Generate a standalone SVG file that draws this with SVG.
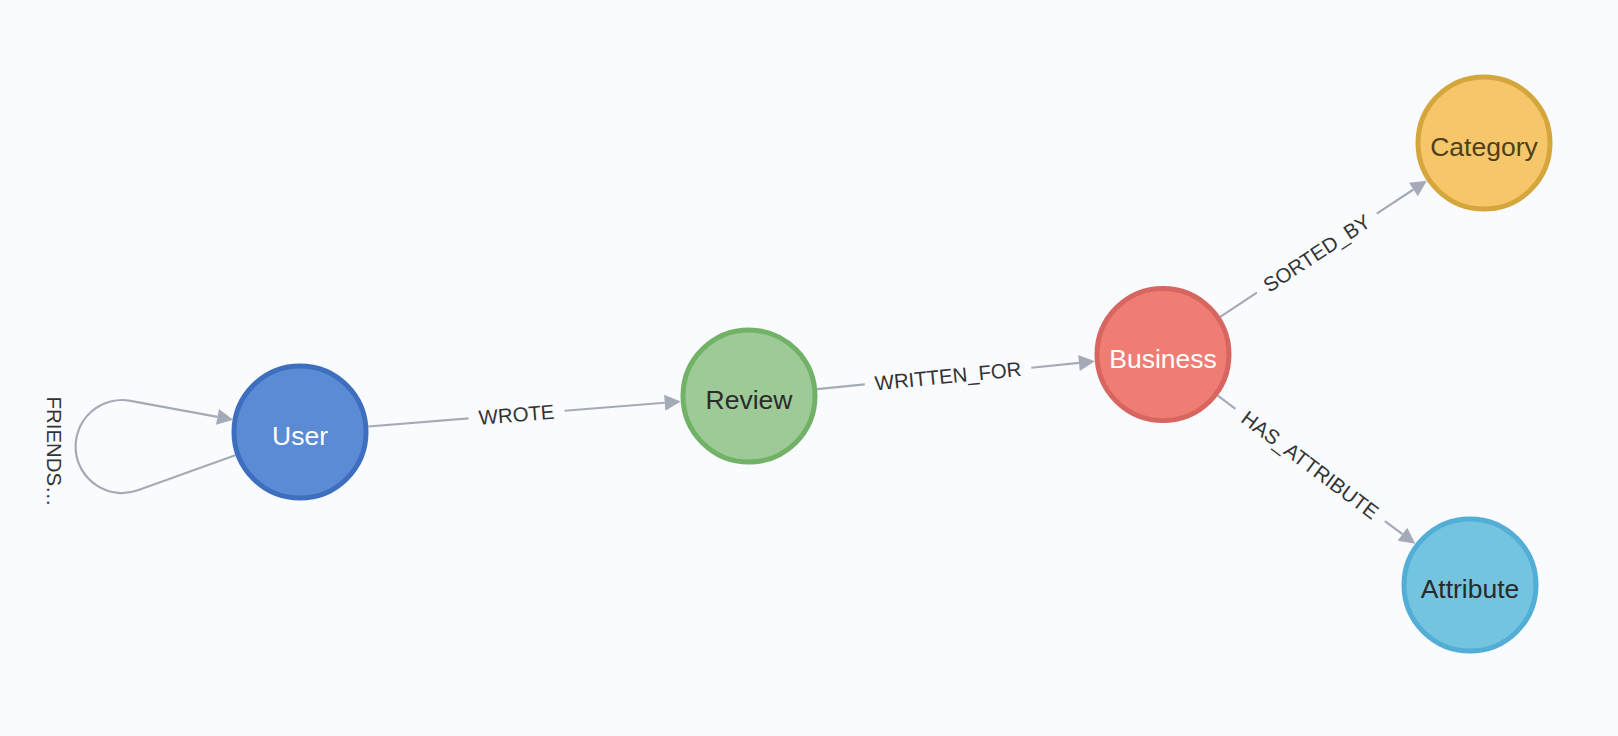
<svg xmlns="http://www.w3.org/2000/svg" width="1618" height="736" viewBox="0 0 1618 736">
<style>
.edge{stroke:#A5ABB6;stroke-width:2.2;fill:none}
.head{fill:#A5ABB6}
.elabel{font-family:"Liberation Sans",Arial,sans-serif;font-size:20.4px;fill:#333333;text-anchor:middle}
.nlabel{font-family:"Liberation Sans",Arial,sans-serif;font-size:26.5px;text-anchor:middle}
.node circle{stroke-width:5}
</style>
<rect width="1618" height="736" fill="#F9FBFE"/>
<g id="connectors">
  <g id="edge-friends">
    <path class="edge" d="M236,455 L137.8,490.3 A46.5,46.5 0 1 1 130.5,400.8 L217.5,416.8"/>
    <polygon class="head" points="233.2,419.7 219,408.9 216,424.7"/>
    <text class="elabel" transform="translate(54,451.5) rotate(90)" x="0" y="0" dy=".35em">FRIENDS…</text>
  </g>
  <g id="edge-wrote" transform="translate(368.3,426.5) rotate(-4.584)">
    <line class="edge" x1="0" y1="0" x2="100.5" y2="0"/>
    <line class="edge" x1="196.9" y1="0" x2="297.4" y2="0"/>
    <polygon class="head" points="313.4,0 297.4,-8 297.4,8"/>
    <text class="elabel" x="148.7" y="0" dy=".35em">WROTE</text>
  </g>
  <g id="edge-written-for" transform="translate(817.2,389.2) rotate(-5.724)">
    <line class="edge" x1="0" y1="0" x2="47.8" y2="0"/>
    <line class="edge" x1="215.2" y1="0" x2="263.07" y2="0"/>
    <polygon class="head" points="279.07,0 263.07,-8 263.07,8"/>
    <text class="elabel" x="131.5" y="0" dy=".35em">WRITTEN_FOR</text>
  </g>
  <g id="edge-sorted-by" transform="translate(1220.2,316.8) rotate(-33.38)">
    <line class="edge" x1="0" y1="0" x2="43.9" y2="0"/>
    <line class="edge" x1="187.5" y1="0" x2="231.41" y2="0"/>
    <polygon class="head" points="247.41,0 231.41,-8 231.41,8"/>
    <text class="elabel" x="115.7" y="0" dy=".35em">SORTED_BY</text>
  </g>
  <g id="edge-has-attribute" transform="translate(1217.8,395.6) rotate(36.90)">
    <line class="edge" x1="0" y1="0" x2="22" y2="0"/>
    <line class="edge" x1="208.9" y1="0" x2="230.9" y2="0"/>
    <polygon class="head" points="246.9,0 230.9,-8 230.9,8"/>
    <text class="elabel" x="115.45" y="0" dy=".35em">HAS_ATTRIBUTE</text>
  </g>
</g>
<g id="node-user" class="node">
  <circle cx="300" cy="432" r="66" fill="#5C8BD6" stroke="#3E6EBE"/>
  <text class="nlabel" x="300" y="445" fill="#FFFFFF">User</text>
</g>
<g id="node-review" class="node">
  <circle cx="749" cy="396" r="66" fill="#9DCA97" stroke="#72B267"/>
  <text class="nlabel" x="749" y="409" fill="#2B2B2B">Review</text>
</g>
<g id="node-business" class="node">
  <circle cx="1163" cy="354.5" r="66" fill="#EF7D73" stroke="#D6665F"/>
  <text class="nlabel" x="1163" y="367.5" fill="#FFFFFF">Business</text>
</g>
<g id="node-category" class="node">
  <circle cx="1484" cy="143" r="66" fill="#F6C76A" stroke="#D4A63C"/>
  <text class="nlabel" x="1484" y="156" fill="#4D3F1A">Category</text>
</g>
<g id="node-attribute" class="node">
  <circle cx="1470" cy="585" r="66" fill="#74C4E0" stroke="#52AED6"/>
  <text class="nlabel" x="1470" y="598" fill="#2A2A2A">Attribute</text>
</g>
</svg>
